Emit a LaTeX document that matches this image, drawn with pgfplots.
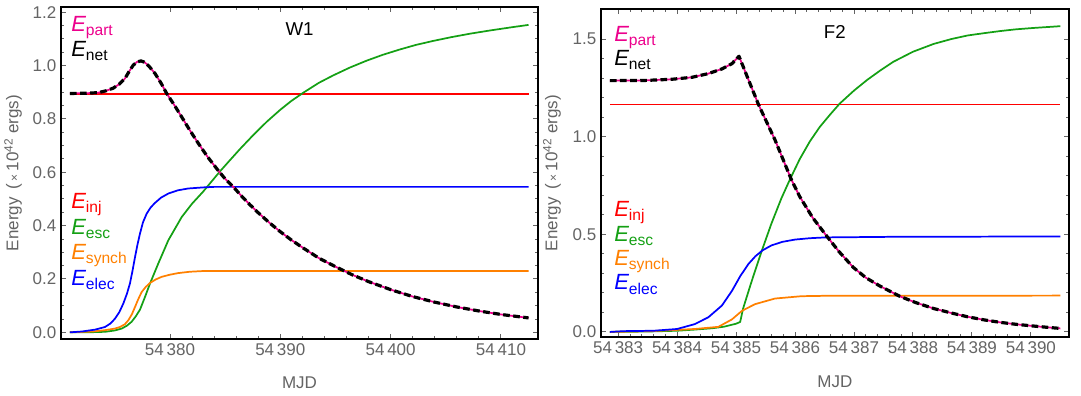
\documentclass[border=0pt]{standalone}
\usepackage{pgfplots}
\pgfplotsset{compat=1.18}
\usepackage{fontspec}
\setmainfont{Liberation Sans}

\definecolor{tickgray}{RGB}{100,100,100}
\definecolor{mgreen}{RGB}{20,160,20}
\definecolor{morange}{RGB}{255,128,0}

% E with an upright subscript, Mathematica style
\newcommand{\Elab}[1]{{\fontsize{16.5}{16.5}\selectfont\itshape E}\raisebox{-3pt}{\fontsize{11.7}{12}\selectfont #1}}

\tikzset{lab/.style={anchor=base west, inner sep=0pt}}

\pgfplotsset{
  mma/.style={
    scale only axis,
    axis line style={black, line width=1.5pt},
    tick align=inside,
    major tick length=3.75pt, minor tick length=2.25pt,
    major tick style={tickgray, line width=0.7pt},
    minor tick style={tickgray, line width=0.6pt},
    tick label style={font=\fontsize{12.75}{13}\selectfont, text=tickgray},
    label style={font=\fontsize{12.75}{13}\selectfont, text=tickgray},
    yticklabel style={/pgf/number format/.cd, fixed, fixed zerofill, precision=1, assume math mode=true},
    xticklabel={54\,\pgfmathprintnumber[fixed,precision=0,assume math mode=true]{\tick}},
    xlabel={MJD},
    ylabel={Energy\, (\,{\fontsize{9}{9}\selectfont ×}\,10\textsuperscript{42} ergs)},
    no markers,
    every axis plot/.append style={line join=round},
  },
  inj/.style={red, line width=1.3pt},
  esc/.style={mgreen, line width=1.3pt},
  syn/.style={morange, line width=1.3pt},
  ele/.style={blue, line width=1.3pt},
  prt/.style={magenta, line width=1.3pt},
  net/.style={black, line width=2.4pt, dash pattern=on 5pt off 2.6pt},
}

\begin{document}
\begin{tikzpicture}
\useasboundingbox (0,0) rectangle (810.75pt,297pt);

% ---------------- W1 ----------------
\begin{axis}[mma,
  at={(45.75pt,42.75pt)}, anchor=south west,
  width=357.75pt, height=249pt,
  xmin=370.12, xmax=413.36, ymin=-0.025, ymax=1.219,
  xtick={380,390,400,410}, minor x tick num=4,
  ytick={0,0.2,0.4,0.6,0.8,1.0,1.2}, minor y tick num=3,
  xlabel style={at={(axis description cs:0.5,-0.131)}, anchor=center},
  ylabel style={at={(axis description cs:-0.1006,0.5)}, anchor=center},
]
\addplot[inj] coordinates {(370.93,0.894)(412.5,0.894)};
\addplot[esc] coordinates {
  (370.93,0.0)(372.5,0.0)(374.11,0.002)(375.0,0.007)(375.62,0.014)(376.1,0.025)
  (376.53,0.040)(376.9,0.060)(377.28,0.085)(377.73,0.132)(378.19,0.183)(378.94,0.258)
  (379.85,0.345)(381.06,0.432)(382.0,0.482)(383.0,0.527)(384.53,0.603)(385.5,0.648)
  (386.35,0.687)(387.5,0.737)(388.77,0.789)(390.0,0.834)(391.0,0.867)(392.09,0.898)
  (393.5,0.935)(394.81,0.963)(396.3,0.992)(397.83,1.018)(399.3,1.040)(400.85,1.060)
  (402.3,1.077)(403.87,1.092)(405.5,1.106)(407.2,1.119)(409.0,1.131)(410.8,1.142)
  (412.5,1.152)
};
\addplot[syn] coordinates {
  (370.93,0.0)(373.0,0.003)(374.11,0.008)(375.0,0.014)(375.47,0.020)(375.9,0.030)
  (376.22,0.045)(376.55,0.068)(376.83,0.095)(377.1,0.122)(377.43,0.151)(377.8,0.170)
  (378.19,0.185)(378.7,0.198)(379.25,0.208)(380.0,0.216)(380.75,0.222)(381.8,0.227)
  (383.17,0.230)(412.5,0.230)
};
\addplot[ele] coordinates {
  (370.93,0.0)(372.0,0.003)(373.2,0.010)(374.11,0.020)(374.6,0.033)(375.01,0.051)
  (375.4,0.075)(375.77,0.108)(376.1,0.145)(376.37,0.183)(376.6,0.230)(376.83,0.282)
  (377.05,0.328)(377.28,0.370)(377.55,0.412)(377.89,0.445)(378.25,0.468)(378.64,0.485)
  (379.2,0.505)(379.85,0.520)(380.7,0.532)(381.66,0.539)(383.0,0.543)(384.0,0.545)
  (412.5,0.545)
};
\pgfplotstableread{
x E
370.93 0.895
372.5 0.896
373.5 0.898
374.2 0.905
374.86 0.915
375.4 0.930
375.92 0.951
376.3 0.978
376.67 1.001
377.0 1.013
377.37 1.017
377.7 1.012
378.1 0.997
378.64 0.970
379.2 0.933
379.7 0.895
380.4 0.851
381.06 0.807
381.8 0.757
382.6 0.706
383.4 0.658
384.3 0.610
385.0 0.575
385.74 0.545
386.5 0.510
387.25 0.478
388.0 0.448
389.0 0.411
390.0 0.377
391.0 0.346
392.0 0.318
393.5 0.278
395.0 0.246
396.5 0.216
398.0 0.190
400.0 0.160
402.0 0.134
404.0 0.113
406.0 0.095
408.0 0.080
410.0 0.067
412.5 0.054
}\partW
\addplot[prt] table[x=x,y=E] {\partW};
\addplot[net] table[x=x,y=E] {\partW};
\node[font=\fontsize{14}{14}\selectfont] at (rel axis cs:0.5,0.932) {W1};
\node[lab, text=magenta] at (rel axis cs:0.021,0.9256) {\Elab{part}};
\node[lab, text=black] at (rel axis cs:0.021,0.8494) {\Elab{net}};
\node[lab, text=red] at (rel axis cs:0.021,0.3916) {\Elab{inj}};
\node[lab, text=mgreen] at (rel axis cs:0.021,0.3148) {\Elab{esc}};
\node[lab, text=morange] at (rel axis cs:0.021,0.2380) {\Elab{synch}};
\node[lab, text=blue] at (rel axis cs:0.021,0.1611) {\Elab{elec}};
\end{axis}

% ---------------- F2 ----------------
\begin{axis}[mma,
  at={(450.75pt,44.25pt)}, anchor=south west,
  width=350.7pt, height=246pt,
  xmin=382.71, xmax=390.64, ymin=-0.026, ymax=1.654,
  xtick={383,384,385,386,387,388,389,390}, minor x tick num=4,
  ytick={0,0.5,1.0,1.5}, minor y tick num=4,
  xlabel style={at={(axis description cs:0.5,-0.136)}, anchor=center},
  ylabel style={at={(axis description cs:-0.1048,0.5)}, anchor=center},
]
\addplot[inj] coordinates {(382.86,1.165)(390.5,1.165)};
\addplot[esc] coordinates {
  (382.86,0.0)(383.5,0.002)(384.0,0.006)(384.3,0.012)(384.6,0.019)(384.8,0.027)
  (385.0,0.042)(385.07,0.051)(385.12,0.120)(385.26,0.255)(385.43,0.410)(385.6,0.555)
  (385.77,0.685)(385.92,0.785)(386.08,0.885)(386.25,0.975)(386.42,1.050)(386.6,1.115)
  (386.76,1.170)(387.0,1.236)(387.22,1.290)(387.45,1.340)(387.67,1.384)(388.0,1.435)
  (388.35,1.475)(388.65,1.500)(388.92,1.518)(389.2,1.530)(389.48,1.541)(389.75,1.550)
  (390.05,1.557)(390.3,1.562)(390.5,1.566)
};
\addplot[syn] coordinates {
  (382.86,0.0)(383.57,0.004)(384.3,0.015)(384.7,0.026)(384.93,0.064)(385.1,0.108)
  (385.32,0.142)(385.66,0.171)(386.11,0.183)(386.51,0.185)(390.5,0.186)
};
\addplot[ele] coordinates {
  (382.86,0.0)(383.1,0.004)(383.6,0.006)(384.0,0.015)(384.3,0.040)(384.53,0.075)
  (384.76,0.135)(384.93,0.210)(385.07,0.285)(385.21,0.348)(385.33,0.388)(385.45,0.418)
  (385.6,0.443)(385.78,0.461)(386.0,0.473)(386.25,0.480)(386.51,0.484)(387.6,0.487)
  (390.5,0.489)
};
\pgfplotstableread{
x E
382.86 1.287
383.45 1.288
383.91 1.294
384.25 1.304
384.53 1.323
384.76 1.347
384.93 1.374
385.05 1.412
385.38 1.165
385.66 0.984
385.94 0.779
386.08 0.693
386.3 0.585
386.54 0.490
386.75 0.410
386.99 0.330
387.2 0.278
387.44 0.235
387.78 0.182
388.05 0.150
388.35 0.120
388.65 0.097
388.92 0.078
389.2 0.062
389.48 0.049
389.75 0.039
390.05 0.030
390.3 0.023
390.5 0.018
}\partF
\addplot[prt] table[x=x,y=E] {\partF};
\addplot[net] table[x=x,y=E] {\partF};
\node[font=\fontsize{14}{14}\selectfont] at (rel axis cs:0.5,0.929) {F2};
\node[lab, text=magenta] at (rel axis cs:0.0278,0.8994) {\Elab{part}};
\node[lab, text=black] at (rel axis cs:0.0278,0.8277) {\Elab{net}};
\node[lab, text=red] at (rel axis cs:0.0278,0.3668) {\Elab{inj}};
\node[lab, text=mgreen] at (rel axis cs:0.0278,0.2905) {\Elab{esc}};
\node[lab, text=morange] at (rel axis cs:0.0278,0.2180) {\Elab{synch}};
\node[lab, text=blue] at (rel axis cs:0.0278,0.1433) {\Elab{elec}};
\end{axis}
\end{tikzpicture}
\end{document}
